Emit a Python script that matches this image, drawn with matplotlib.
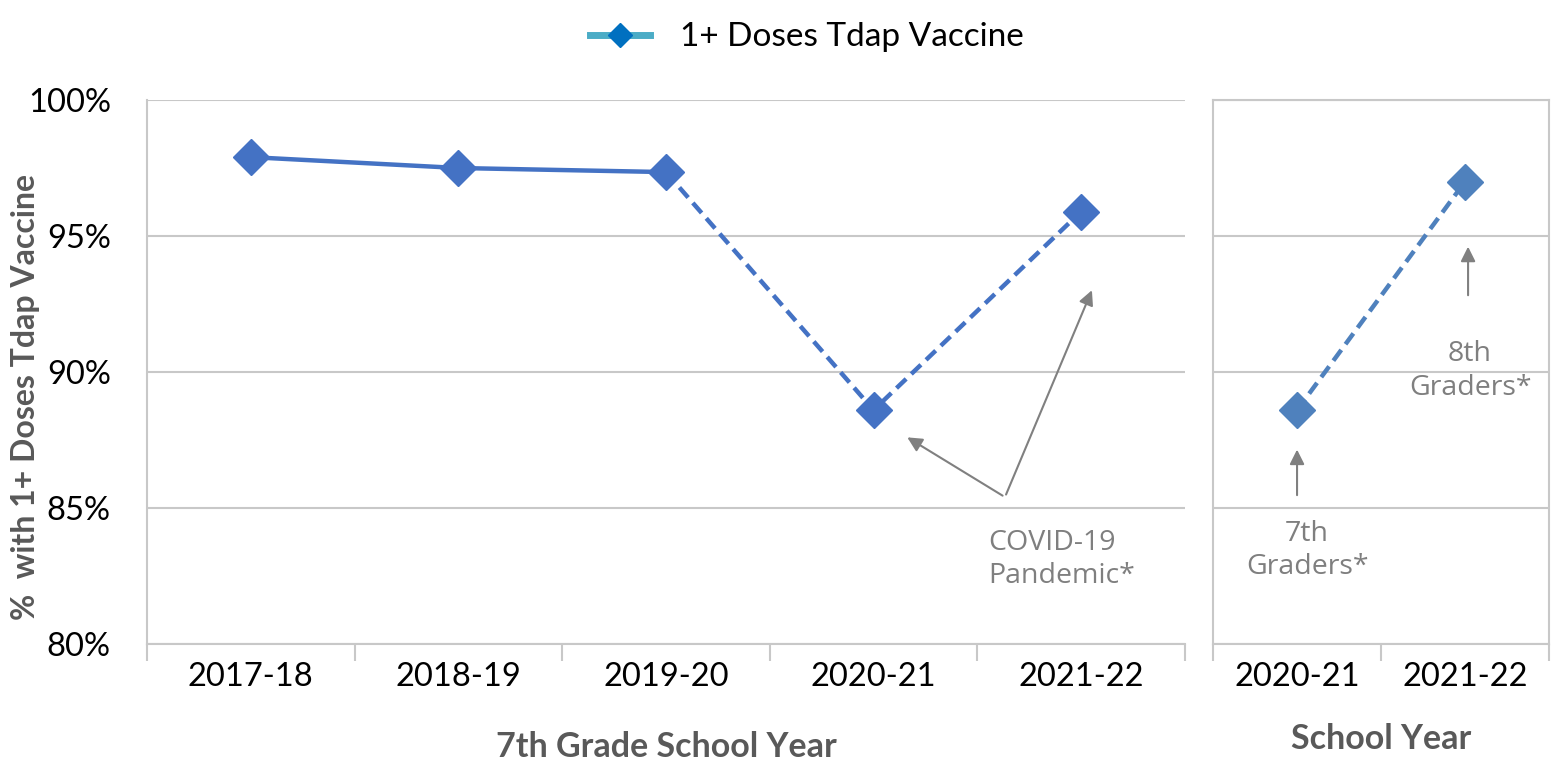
import matplotlib.pyplot as plt
from matplotlib.lines import Line2D

plt.rcParams['font.family'] = ['Lato', 'DejaVu Sans']

years_7th = ['2017-18', '2018-19', '2019-20', '2020-21', '2021-22']
tdap_7th = [97.9, 97.5, 97.35, 88.6, 95.9]

years_cohort = ['2020-21', '2021-22']
tdap_cohort = [88.6, 97.0]

y_ticks = [80, 85, 90, 95, 100]

blue = '#4472C4'
blue2 = '#4F81BD'
grid_c = '#C8C8C8'
gray_txt = '#7F7F7F'
label_c = '#595959'
note_font = ['Open Sans', 'DejaVu Sans']

fig = plt.figure(figsize=(15.52, 7.67), dpi=100)
ax = fig.add_axes([0.0947, 0.1604, 0.6688, 0.7092])
ax2 = fig.add_axes([0.7816, 0.1604, 0.2165, 0.7092])

# left panel: solid for pre-pandemic years, dashed after
x = list(range(len(years_7th)))
ax.plot(x[:3], tdap_7th[:3], color=blue, lw=3.2, zorder=3)
ax.plot(x[2:], tdap_7th[2:], color=blue, lw=3.2, ls=(0, (3, 1.6)), zorder=3)
ax.plot(x, tdap_7th, ls='none', marker='D', ms=18.5, color=blue, zorder=4)

ax.set_xlim(-0.5, len(years_7th) - 0.5)
ax.set_ylim(80, 100)
ax.set_yticks(y_ticks)
ax.set_yticklabels([f'{v}%' for v in y_ticks], fontsize=23.5)
ax.set_xticks(x)
ax.set_xticklabels(years_7th, fontsize=23.5)
ax.set_xticks([i - 0.5 for i in range(len(years_7th) + 1)], minor=True)
ax.tick_params(axis='x', which='major', length=0, pad=13)
ax.tick_params(axis='x', which='minor', length=12, color=grid_c, width=1.5)
ax.tick_params(axis='y', length=0, pad=26)
ax.grid(axis='y', color=grid_c, lw=1.5)
ax.set_axisbelow(True)
for s in ['top', 'right']:
    ax.spines[s].set_visible(False)
for s in ['left', 'bottom']:
    ax.spines[s].set_color(grid_c)
    ax.spines[s].set_linewidth(1.5)
ax.set_xlabel('7th Grade School Year', fontsize=24.5, fontweight='bold',
              color=label_c, labelpad=28)
ax.set_ylabel('%  with 1+ Doses Tdap Vaccine', fontsize=23, fontweight='bold',
              color=label_c, va='center')
ax.yaxis.set_label_coords(-0.117, 0.454)

arrow = dict(arrowstyle='-|>', color='#808080', lw=1.5, mutation_scale=22)
ax.annotate('', xy=(3.151, 87.65), xytext=(3.633, 85.4), arrowprops=arrow)
ax.annotate('', xy=(4.057, 93.1), xytext=(3.633, 85.4), arrowprops=arrow)
ax.text(3.551, 83.1, 'COVID-19\nPandemic*', fontsize=20.5, color=gray_txt,
        ha='left', va='center', family=note_font, linespacing=1.25)

# right panel: same cohort followed into 8th grade
x2 = list(range(len(years_cohort)))
ax2.plot(x2, tdap_cohort, color=blue2, lw=3.2, ls=(0, (3, 1.6)),
         marker='D', ms=18.5, zorder=3)
ax2.set_xlim(-0.5, len(years_cohort) - 0.5)
ax2.set_ylim(80, 100)
ax2.set_yticks(y_ticks)
ax2.set_yticklabels([])
ax2.tick_params(axis='y', length=0)
ax2.set_xticks(x2)
ax2.set_xticklabels(years_cohort, fontsize=23.5)
ax2.set_xticks([-0.5, 0.5, 1.5], minor=True)
ax2.tick_params(axis='x', which='major', length=0, pad=13)
ax2.tick_params(axis='x', which='minor', length=12, color=grid_c, width=1.5)
ax2.grid(axis='y', color=grid_c, lw=1.5)
ax2.set_axisbelow(True)
for s in ax2.spines.values():
    s.set_color(grid_c)
    s.set_linewidth(1.5)
ax2.set_xlabel('School Year', fontsize=24.5, fontweight='bold',
               color=label_c, labelpad=22)

ax2.annotate('', xy=(0.0, 87.25), xytext=(0.0, 85.37), arrowprops=arrow)
ax2.text(0.06, 83.45, '7th\nGraders*', fontsize=20.5, color=gray_txt,
         ha='center', va='center', family=note_font, linespacing=1.25)
ax2.annotate('', xy=(1.018, 94.71), xytext=(1.018, 92.72), arrowprops=arrow)
ax2.text(1.03, 90.04, '8th\nGraders*', fontsize=20.5, color=gray_txt,
         ha='center', va='center', family=note_font, linespacing=1.25)

handle = Line2D([], [], color='#4BACC6', lw=5, marker='D', ms=12,
                markerfacecolor='#0070C0', markeredgecolor='#0070C0')
fig.legend([handle], ['1+ Doses Tdap Vaccine'], loc='upper center',
           bbox_to_anchor=(0.52, 1.01), frameon=False, fontsize=24,
           handlelength=1.8, handletextpad=0.9)

fig.savefig('out.png', dpi=100)
